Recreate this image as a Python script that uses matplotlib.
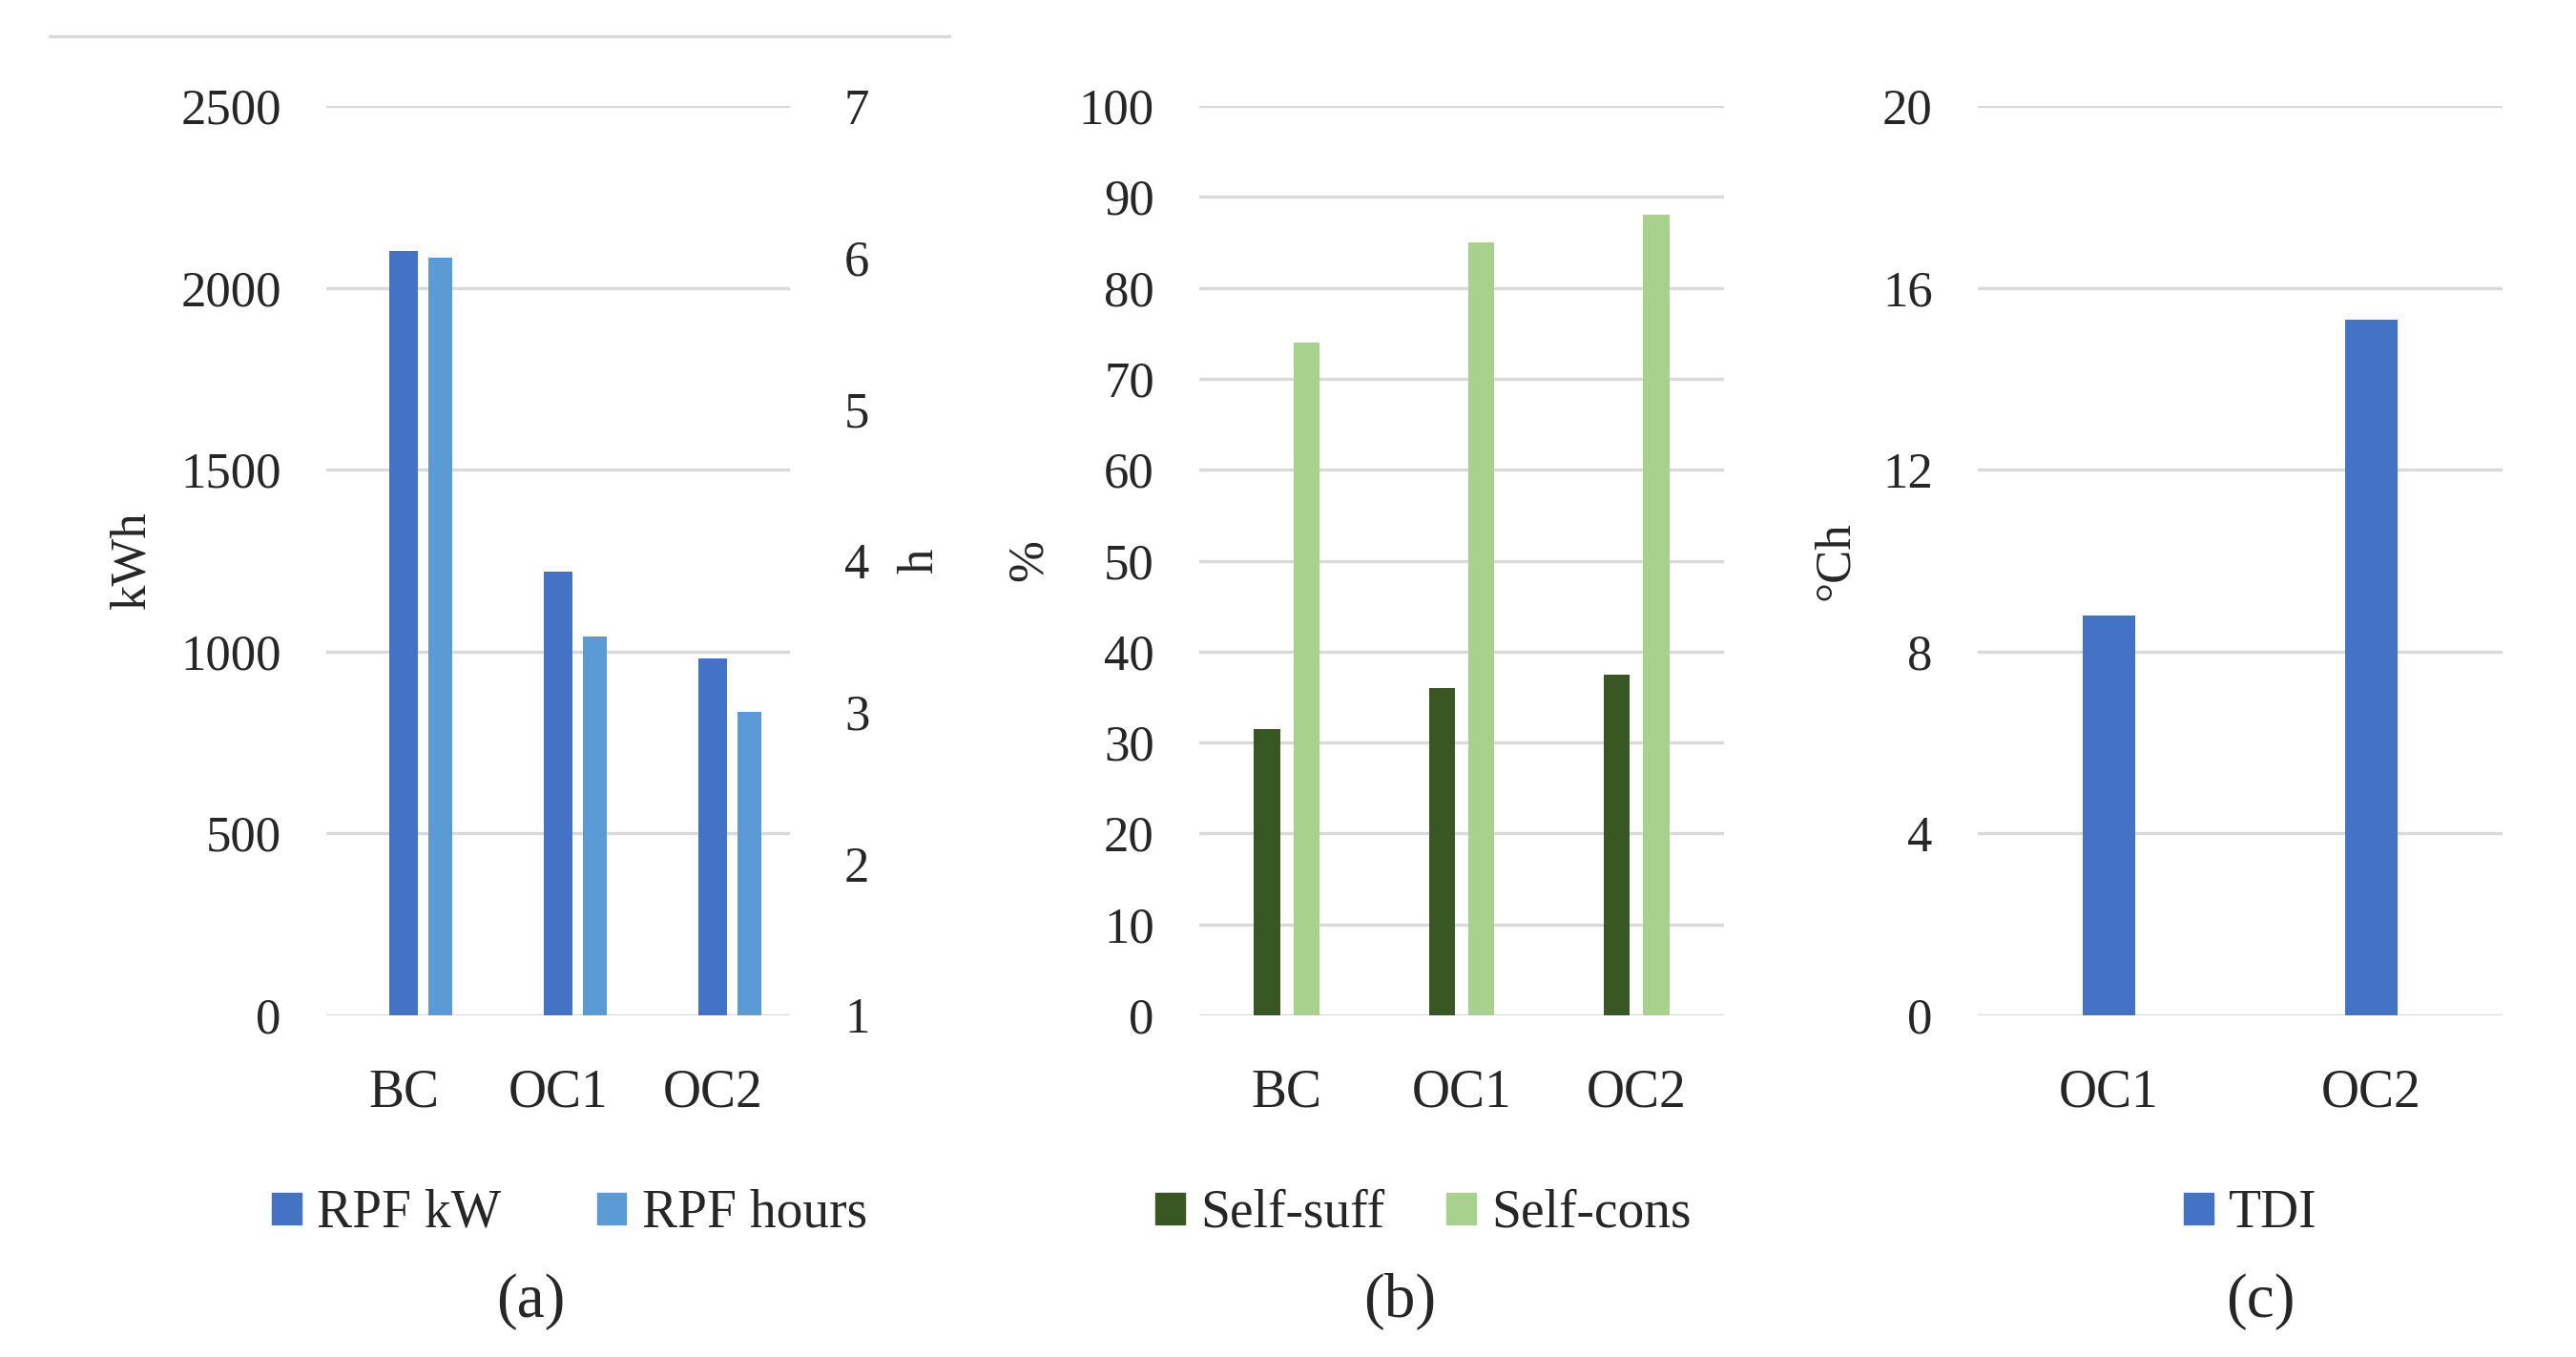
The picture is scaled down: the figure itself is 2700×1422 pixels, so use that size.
"""
Three bar panels: RPF, self-sufficiency / self-consumption, TDI
"""

from matplotlib import pyplot as plt
from matplotlib.lines import Line2D
from matplotlib.patches import Patch
import numpy as np

plt.rcParams['font.family'] = ['Liberation Serif', 'DejaVu Serif']

# panel (a)
cases_a = ['BC', 'OC1', 'OC2']
rpf_kw = [2100, 1220, 980]
rpf_hours = [6.0, 3.5, 3.0]

# panel (b)
cases_b = ['BC', 'OC1', 'OC2']
self_suff = [31.5, 36, 37.5]
self_cons = [74, 85, 88]

# panel (c)
cases_c = ['OC1', 'OC2']
tdi = [8.8, 15.3]

BLUE = '#4472C4'
LBLUE = '#5B9BD5'
DGREEN = '#385723'
LGREEN = '#A9D18E'
GRID = '#D9D9D9'
TXT = '#262626'

W, H = 2700, 1422
fig = plt.figure(figsize=(W / 100, H / 100), dpi=100)


def px_axes(x0, x1, y0, y1):
    return fig.add_axes([x0 / W, 1 - y1 / H, (x1 - x0) / W, (y1 - y0) / H])


def style(ax, ticks, labels):
    for s in ax.spines.values():
        s.set_visible(False)
    ax.set_yticks(ticks)
    ax.yaxis.grid(True, color=GRID, lw=2.4)
    ax.set_axisbelow(True)
    ax.set_xticks(np.arange(len(labels)))
    ax.set_xticklabels(labels)
    ax.tick_params(axis='both', length=0, colors=TXT)
    ax.tick_params(axis='y', labelsize=38, pad=34)
    ax.tick_params(axis='x', labelsize=40, pad=40)


def legend(handles, labels, cx, colsp):
    fig.legend(handles, labels, loc='center', bbox_to_anchor=(cx / W, 1 - 1272 / H),
               ncol=len(labels), frameon=False, fontsize=40,
               handlelength=0.55, handleheight=0.55, handletextpad=0.3,
               columnspacing=colsp, labelcolor=TXT)


def caption(text, cx):
    fig.text(cx / W, 1 - 1364 / H, text, fontsize=47, ha='center', va='center', color=TXT)


top, bot = 111, 1064

# (a)
ax = px_axes(342, 828, top, bot)
x = np.arange(len(cases_a))
ax.bar(x, rpf_kw, width=0.19, color=BLUE, zorder=3)
ax.set_ylim(0, 2500)
ax.set_xlim(-0.5, 2.5)
style(ax, np.arange(0, 2501, 500), cases_a)
ax.set_ylabel('kWh', fontsize=38, color=TXT)
ax.yaxis.set_label_coords(-0.37, 0.5)
ax2 = ax.twinx()
ax2.bar(x + 0.24, np.array(rpf_hours) - 1, bottom=1, width=0.154, color=LBLUE, zorder=3)
ax2.set_ylim(1, 7)
ax2.set_yticks(range(1, 8))
for s in ax2.spines.values():
    s.set_visible(False)
ax2.tick_params(axis='y', length=0, labelsize=38, pad=41, colors=TXT)
ax2.set_ylabel('h', fontsize=38, color=TXT, rotation=90)
ax2.yaxis.set_label_coords(1.232, 0.5)
legend([Patch(color=BLUE), Patch(color=LBLUE)], ['RPF kW', 'RPF hours'], 597, 1.8)
caption('(a)', 556)
fig.add_artist(Line2D([52 / W, 995 / W], [1 - 38 / H, 1 - 38 / H], color=GRID, lw=2.4))

# (b)
ax = px_axes(1257, 1807, top, bot)
x = np.arange(len(cases_b))
ax.bar(x - 0.1125, self_suff, width=0.148, color=DGREEN, zorder=3)
ax.bar(x + 0.1125, self_cons, width=0.148, color=LGREEN, zorder=3)
ax.set_ylim(0, 100)
ax.set_xlim(-0.5, 2.5)
style(ax, np.arange(0, 101, 10), cases_b)
ax.set_ylabel('%', fontsize=38, color=TXT)
ax.yaxis.set_label_coords(-0.28, 0.5)
legend([Patch(color=DGREEN), Patch(color=LGREEN)], ['Self-suff', 'Self-cons'], 1492, 1.17)
caption('(b)', 1467)

# (c)
ax = px_axes(2073, 2623, top, bot)
x = np.arange(len(cases_c))
ax.bar(x, tdi, width=0.2, color=BLUE, zorder=3)
ax.set_ylim(0, 20)
ax.set_xlim(-0.5, 1.5)
style(ax, np.arange(0, 21, 4), cases_c)
ax.set_ylabel('°Ch', fontsize=38, color=TXT)
ax.yaxis.set_label_coords(-0.228, 0.5)
legend([Patch(color=BLUE)], ['TDI'], 2359, 1.8)
caption('(c)', 2369)

fig.savefig('out.png', dpi=100, facecolor='white')
